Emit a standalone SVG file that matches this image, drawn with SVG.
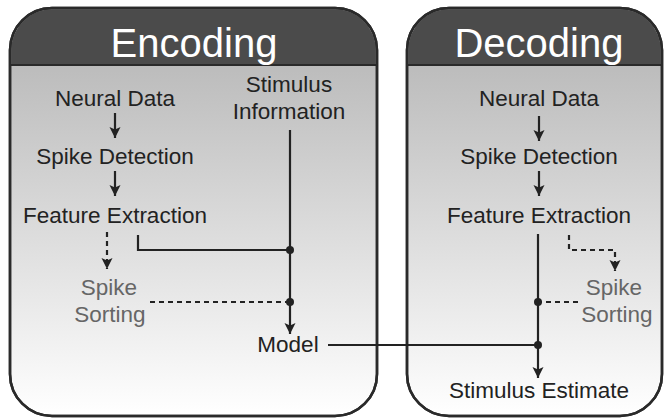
<svg xmlns="http://www.w3.org/2000/svg" width="665" height="420" viewBox="0 0 665 420">
  <defs>
    <linearGradient id="body" gradientUnits="userSpaceOnUse" x1="0" y1="65" x2="0" y2="416">
      <stop offset="0" stop-color="#bcbcbc"/>
      <stop offset="1" stop-color="#ffffff"/>
    </linearGradient>
    <marker id="arr" markerUnits="userSpaceOnUse" markerWidth="14" markerHeight="14" refX="11" refY="5.5" orient="auto">
      <path d="M0,0 L11,5.5 L0,11 L2.5,5.5 Z" fill="#222"/>
    </marker>
    <style>
      .panel { fill: url(#body); stroke: #2a2a2a; stroke-width: 2.5; }
      .head { fill: #4b4b4b; }
      .sep { stroke: #2a2a2a; stroke-width: 2; }
      .title { font-family: "Liberation Sans", Arial, sans-serif; font-size: 40px; fill: #ffffff; text-anchor: middle; }
      .lbl { font-family: "Liberation Sans", Arial, sans-serif; font-size: 22.5px; fill: #222222; text-anchor: middle; }
      .gray { fill: #666666; }
      .ln { stroke: #222; stroke-width: 2.2; fill: none; }
      .dash { stroke: #222; stroke-width: 2.2; fill: none; stroke-dasharray: 5 4; }
      .dot { fill: #222; }
    </style>
  </defs>

  <g id="encoding-panel">
    <rect class="panel" x="10" y="8" width="367" height="408" rx="42" ry="42"/>
    <path class="head" d="M11.2,65 V50 A40.8,40.8 0 0 1 52,9.2 H335 A40.8,40.8 0 0 1 375.8,50 V65 Z"/>
    <line class="sep" x1="11" y1="65" x2="376" y2="65"/>
    <rect x="10" y="8" width="367" height="408" rx="42" ry="42" fill="none" stroke="#2a2a2a" stroke-width="2.5"/>
    <text class="title" x="194" y="57">Encoding</text>
  </g>

  <g id="decoding-panel">
    <rect class="panel" x="407" y="8" width="255" height="408" rx="42" ry="42"/>
    <path class="head" d="M408.2,65 V50 A40.8,40.8 0 0 1 449,9.2 H620 A40.8,40.8 0 0 1 660.8,50 V65 Z"/>
    <line class="sep" x1="408" y1="65" x2="661" y2="65"/>
    <rect x="407" y="8" width="255" height="408" rx="42" ry="42" fill="none" stroke="#2a2a2a" stroke-width="2.5"/>
    <text class="title" x="539" y="57">Decoding</text>
  </g>

  <g id="enc-neural-data"><text class="lbl" x="115" y="106">Neural Data</text></g>
  <g id="enc-spike-detection"><text class="lbl" x="115" y="164">Spike Detection</text></g>
  <g id="enc-feature-extraction"><text class="lbl" x="115" y="223">Feature Extraction</text></g>
  <g id="enc-spike-sorting"><text class="lbl gray" x="109" y="295">Spike</text><text class="lbl gray" x="110" y="322">Sorting</text></g>
  <g id="enc-stimulus-info"><text class="lbl" x="289" y="92">Stimulus</text><text class="lbl" x="289" y="119">Information</text></g>
  <g id="enc-model"><text class="lbl" x="288" y="352">Model</text></g>

  <g id="dec-neural-data"><text class="lbl" x="539" y="106">Neural Data</text></g>
  <g id="dec-spike-detection"><text class="lbl" x="539" y="164">Spike Detection</text></g>
  <g id="dec-feature-extraction"><text class="lbl" x="539" y="223">Feature Extraction</text></g>
  <g id="dec-spike-sorting"><text class="lbl gray" x="614" y="295">Spike</text><text class="lbl gray" x="617" y="322">Sorting</text></g>
  <g id="dec-stimulus-estimate"><text class="lbl" x="539" y="398">Stimulus Estimate</text></g>

  <g id="connectors">
    <line class="ln" x1="115" y1="113" x2="115" y2="138" marker-end="url(#arr)"/>
    <line class="ln" x1="115" y1="171" x2="115" y2="196" marker-end="url(#arr)"/>
    <line class="dash" x1="107" y1="232" x2="107" y2="269" marker-end="url(#arr)"/>
    <polyline class="ln" points="138,235 138,250 290,250"/>
    <line class="ln" x1="290" y1="130" x2="290" y2="334" marker-end="url(#arr)"/>
    <line class="dash" x1="150" y1="302" x2="290" y2="302"/>
    <circle class="dot" cx="290" cy="250" r="4"/>
    <circle class="dot" cx="290" cy="302" r="4"/>
    <line class="ln" x1="328" y1="345" x2="538" y2="345"/>
    <line class="ln" x1="539" y1="116" x2="539" y2="141" marker-end="url(#arr)"/>
    <line class="ln" x1="539" y1="171" x2="539" y2="196" marker-end="url(#arr)"/>
    <line class="ln" x1="538" y1="234" x2="538" y2="378" marker-end="url(#arr)"/>
    <polyline class="dash" points="569,235 569,250 615,250 615,271" marker-end="url(#arr)"/>
    <line class="dash" x1="578" y1="302" x2="538" y2="302"/>
    <circle class="dot" cx="538" cy="302" r="4"/>
    <circle class="dot" cx="538" cy="345" r="4"/>
  </g>
</svg>
